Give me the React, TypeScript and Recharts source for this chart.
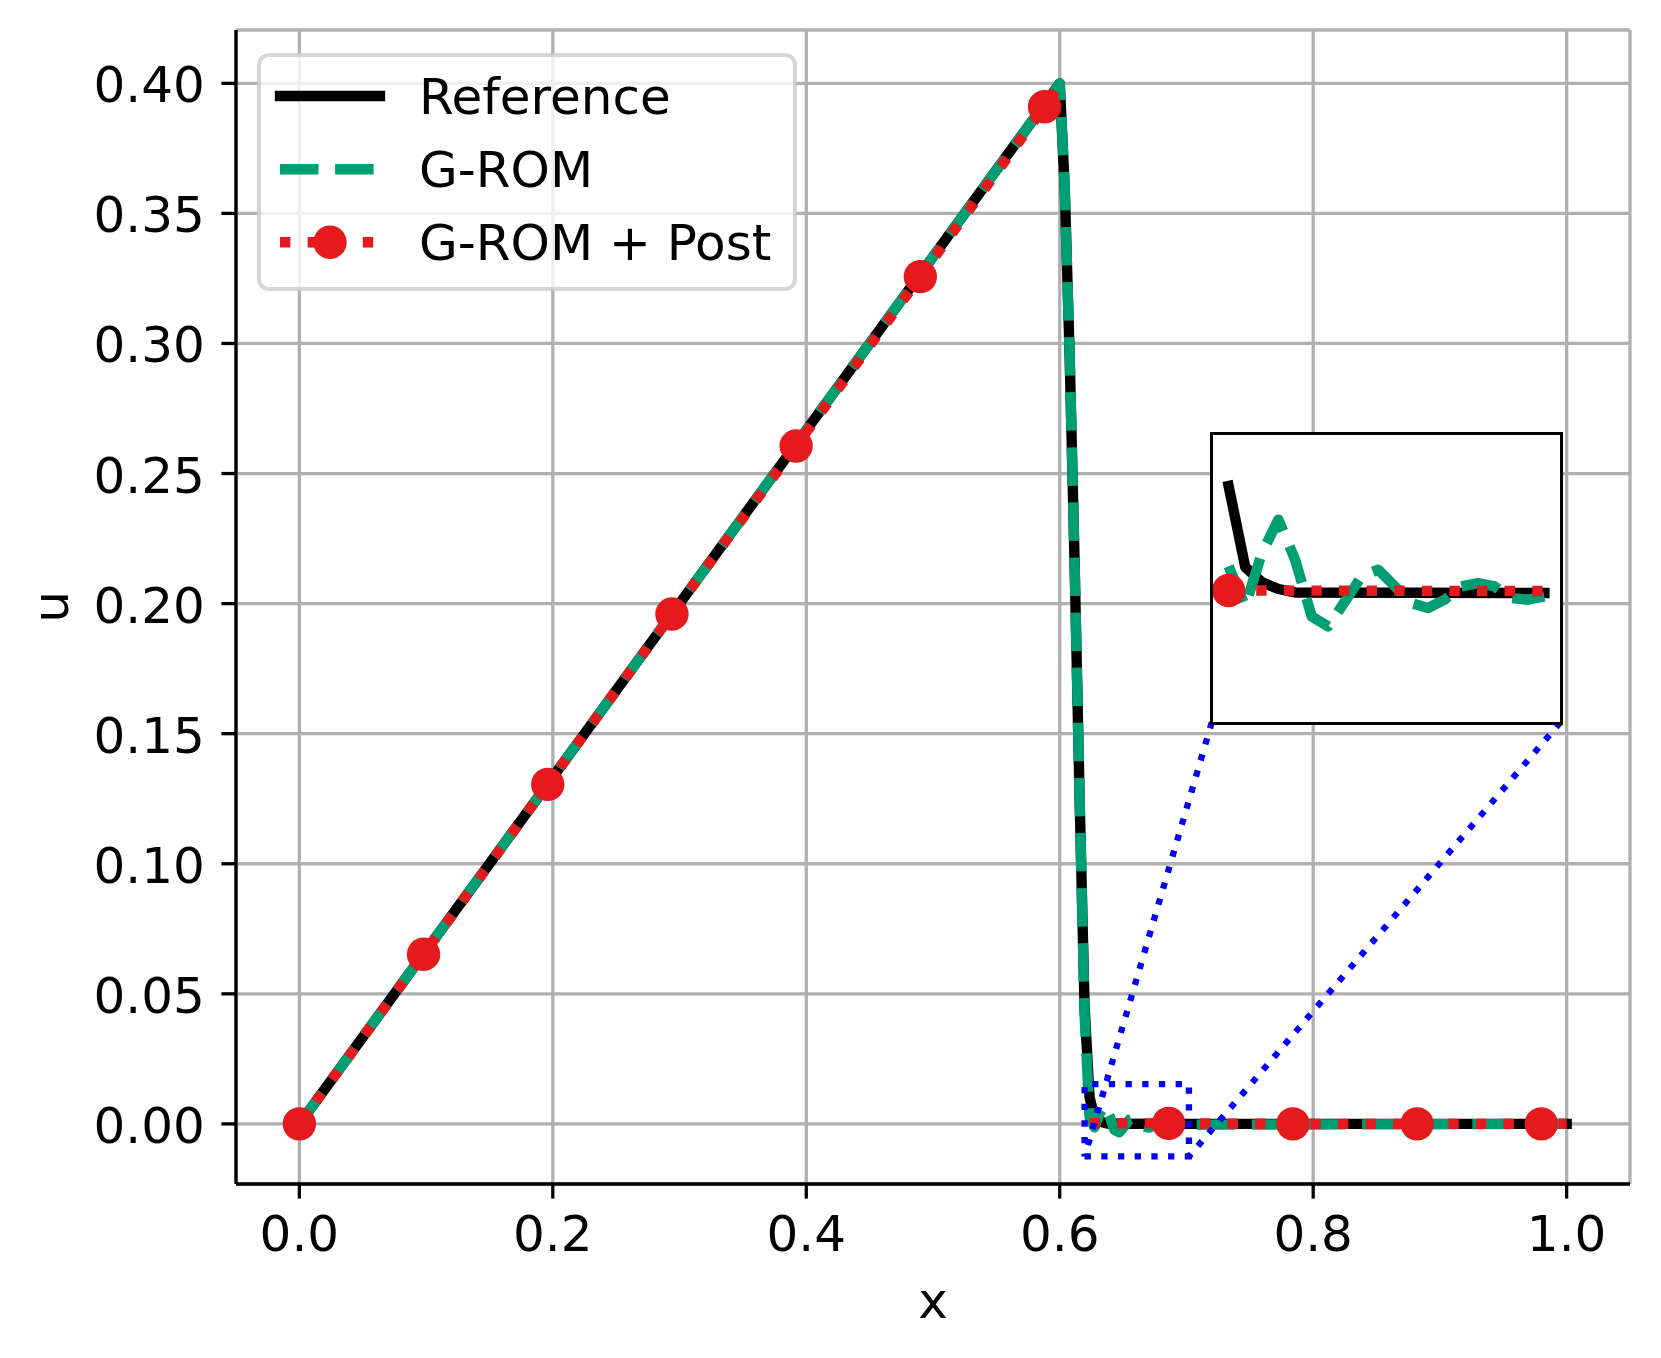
import React from 'react';
import { LineChart, Line, XAxis, YAxis, CartesianGrid } from 'recharts';

// ---------------- data ----------------
const X_TICKS = [0, 0.2, 0.4, 0.6, 0.8, 1.0];
const Y_TICKS = [0, 0.05, 0.1, 0.15, 0.2, 0.25, 0.3, 0.35, 0.4];

const REF_X = [0, 0.6, 0.60392, 0.60784, 0.61176, 0.61569, 0.61961, 0.62353, 0.62745, 0.63137, 0.63529, 0.63922, 0.69804, 1.0];
const REF_U = [0, 0.4, 0.36, 0.295, 0.215, 0.125, 0.045, 0.0103, 0.0025, 0.00105, 0.00039, 0.00006, 0, 0];

const GROM_X = [0, 0.6, 0.60392, 0.60784, 0.61176, 0.61569, 0.61961,
  0.62353, 0.62745, 0.63137, 0.63529, 0.63922, 0.64314, 0.64706, 0.65098, 0.6549, 0.65882,
  0.66275, 0.66667, 0.67059, 0.67451, 0.67843, 0.68235, 0.68627, 0.6902, 0.69412, 0.69804, 1.0];
const GROM_U = [0, 0.4, 0.36, 0.295, 0.215, 0.125, 0.042,
  0.00257, -0.00128, 0.00385, 0.00706, 0.00321, -0.00225, -0.00321, -0.0008, 0.0016, 0.00225,
  0.00064, -0.00096, -0.00144, -0.00064, 0.00064, 0.00096, 0.00064, -0.00048, -0.00064, -0.00032, 0];

// G-ROM + Post: no visible line through the shock cells (gap)
const POST_X = [0, 0.098, 0.196, 0.294, 0.392, 0.49, 0.588, 0.6, 0.61176,
  0.62353, 0.686, 0.69804, 0.784, 0.882, 0.98, 1.0];
const POST_U: (number | null)[] = [0, 0.0652, 0.1305, 0.196, 0.2606, 0.3257, 0.391, 0.4, null,
  0.00025, 0.0002, 0.0002, 0, 0, 0, 0];
const POST_MARKER_X = [0, 0.098, 0.196, 0.294, 0.392, 0.49, 0.588, 0.686, 0.784, 0.882, 0.98];

const X_DOMAIN = [-0.05, 1.05];
const Y_DOMAIN = [-0.0231, 0.4205];
const INSET_X = [0.61961, 0.70196];
const INSET_Y = [-0.0125, 0.0153];
const INSET_SLICE = [0.62353, 0.69804];
const INSET_FRAC = { left: 0.7, bottom: 0.4, width: 0.25, height: 0.25 };

const SERIES = [
  { name: 'Reference', color: '#000000', style: 'solid' },
  { name: 'G-ROM', color: '#009E73', style: 'dashed' },
  { name: 'G-ROM + Post', color: '#E41A1C', style: 'dotted' },
];

// ---------------- layout / style ----------------
const W = 1645;
const H = 1342;
const PLOT = { left: 228, top: 22, width: 1394, height: 1154 };
const Y_AXIS_W = 120;
const X_AXIS_H = 60;
const MARGIN = {
  top: PLOT.top,
  left: PLOT.left - Y_AXIS_W,
  right: W - PLOT.left - PLOT.width,
  bottom: H - PLOT.top - PLOT.height - X_AXIS_H,
};
const FONT = '"DejaVu Sans", "Liberation Sans", sans-serif';
const FS = 50;
const TICK_LEN = 14.6;
const SPINE = 3.3;
const LW = 10.4;
const DASH = '38.5 16.6';
const DOT = '10.4 17.2';
const BLUE = '#0000FF';
const BLUE_LW = 6.3;
const BLUE_DOT = '6.3 10.4';
const MARKER_R = 16.7;

const toPts = (xs: number[], us: (number | null)[]) => xs.map((x, i) => ({ x, u: us[i] }));
const refData = toPts(REF_X, REF_U);
const gromData = toPts(GROM_X, GROM_U);
const postData = toPts(POST_X, POST_U);
const inSlice = (p: { x: number }) => p.x >= INSET_SLICE[0] - 1e-9 && p.x <= INSET_SLICE[1] + 1e-9;
const refInset = refData.filter(inSlice);
const gromInset = gromData.filter(inSlice);
const postInset = postData.filter(inSlice);
const markerSet = new Set(POST_MARKER_X);

// zoom rectangle + connector lines in main-axes data coordinates
const xSpan = X_DOMAIN[1] - X_DOMAIN[0];
const ySpan = Y_DOMAIN[1] - Y_DOMAIN[0];
const cornerY = Y_DOMAIN[0] + INSET_FRAC.bottom * ySpan;
const cornerLX = X_DOMAIN[0] + INSET_FRAC.left * xSpan;
const cornerRX = X_DOMAIN[0] + (INSET_FRAC.left + INSET_FRAC.width) * xSpan;
const rectData = [
  { x: INSET_X[0], u: INSET_Y[0] },
  { x: INSET_X[1], u: INSET_Y[0] },
  { x: INSET_X[1], u: INSET_Y[1] },
  { x: INSET_X[0], u: INSET_Y[1] },
  { x: INSET_X[0], u: INSET_Y[0] },
];
const connL = [{ x: cornerLX, u: cornerY }, { x: INSET_X[0], u: INSET_Y[0] }];
const connR = [{ x: cornerRX, u: cornerY }, { x: INSET_X[1], u: INSET_Y[0] }];

const INSET_BOX = {
  left: Math.round(PLOT.left + INSET_FRAC.left * PLOT.width),
  top: Math.round(PLOT.top + (1 - INSET_FRAC.bottom - INSET_FRAC.height) * PLOT.height),
  w: Math.round(INSET_FRAC.width * PLOT.width),
  h: Math.round(INSET_FRAC.height * PLOT.height),
};

const XTick = (p: any) => (
  <text x={p.x} y={p.y + 38} textAnchor="middle" fontFamily={FONT} fontSize={FS} fill="#000">
    {Number(p.payload.value).toFixed(1)}
  </text>
);
const YTick = (p: any) => (
  <text x={p.x} y={p.y + 19} textAnchor="end" fontFamily={FONT} fontSize={FS} fill="#000">
    {Number(p.payload.value).toFixed(2)}
  </text>
);
const XLabel = () => (
  <text x={PLOT.left + PLOT.width / 2} y={1310} textAnchor="middle" fontFamily={FONT} fontSize={FS} fill="#000">x</text>
);
const YLabel = () => {
  const cx = 60;
  const cy = PLOT.top + PLOT.height / 2;
  return (
    <text x={cx} y={cy} transform={`rotate(-90, ${cx}, ${cy})`} textAnchor="middle" fontFamily={FONT} fontSize={FS} fill="#000">u</text>
  );
};

const mainDot = (p: any) => {
  const { cx, cy, payload, index } = p;
  if (payload.u == null || !markerSet.has(payload.x)) return <g key={`m${index}`} />;
  return <circle key={`m${index}`} cx={cx} cy={cy} r={MARKER_R} fill={SERIES[2].color} />;
};
const insetDot = (p: any) => {
  const { cx, cy, index } = p;
  if (index !== 0) return <g key={`i${index}`} />;
  return <circle key={`i${index}`} cx={cx} cy={cy} r={MARKER_R} fill={SERIES[2].color} />;
};

const seriesLines = (ref: any[], grom: any[], post: any[], dot: any) => [
  <Line key="ref" data={ref} dataKey="u" type="linear" stroke={SERIES[0].color} strokeWidth={LW}
    strokeLinecap="square" strokeLinejoin="round" dot={false} activeDot={false} isAnimationActive={false} />,
  <Line key="grom" data={grom} dataKey="u" type="linear" stroke={SERIES[1].color} strokeWidth={LW}
    strokeDasharray={DASH} strokeLinecap="butt" strokeLinejoin="round" dot={false} activeDot={false} isAnimationActive={false} />,
  <Line key="post" data={post} dataKey="u" type="linear" stroke={SERIES[2].color} strokeWidth={LW}
    strokeDasharray={DOT} strokeLinecap="butt" strokeLinejoin="round" dot={dot} activeDot={false}
    connectNulls={false} isAnimationActive={false} />,
];

const LegendBox = () => {
  const box = { x: 251, y: 47, w: 536, h: 234 };
  const rows = [88, 161.3, 234.3];
  const hx0 = 272;
  const hx1 = 372;
  return (
    <svg width={800} height={300} style={{ position: 'absolute', left: 0, top: 0, pointerEvents: 'none' }}>
      <rect x={box.x} y={box.y} width={box.w} height={box.h} rx={10} ry={10}
        fill="rgba(255,255,255,0.8)" stroke="rgba(204,204,204,0.8)" strokeWidth={4} />
      {SERIES.map((s, i) => {
        const y = rows[i];
        return (
          <g key={s.name}>
            {s.style === 'solid' && (
              <line x1={hx0} y1={y} x2={hx1} y2={y} stroke={s.color} strokeWidth={LW} strokeLinecap="square" />
            )}
            {s.style === 'dashed' && (
              <line x1={hx0} y1={y} x2={hx1} y2={y} stroke={s.color} strokeWidth={LW} strokeDasharray={DASH} />
            )}
            {s.style === 'dotted' && (
              <g>
                <line x1={hx0} y1={y} x2={hx1} y2={y} stroke={s.color} strokeWidth={LW} strokeDasharray={DOT} />
                <circle cx={(hx0 + hx1) / 2} cy={y} r={MARKER_R} fill={s.color} />
              </g>
            )}
            <text x={411} y={y + 18} fontFamily={FONT} fontSize={FS} fill="#000">{s.name}</text>
          </g>
        );
      })}
    </svg>
  );
};

export default function App() {
  const axisStroke = { stroke: '#000', strokeWidth: SPINE };
  return (
    <div style={{ position: 'relative', width: W, height: H, background: '#fff' }}>
      <LineChart width={W} height={H} margin={MARGIN}>
        <CartesianGrid stroke="#b0b0b0" strokeWidth={SPINE} />
        <XAxis dataKey="x" type="number" domain={X_DOMAIN} ticks={X_TICKS} allowDataOverflow interval={0}
          height={X_AXIS_H} tickSize={TICK_LEN} tickMargin={TICK_LEN} tickLine={axisStroke} axisLine={axisStroke}
          tick={XTick} label={XLabel} />
        <YAxis dataKey="u" type="number" domain={Y_DOMAIN} ticks={Y_TICKS} allowDataOverflow interval={0}
          width={Y_AXIS_W} tickSize={TICK_LEN} tickMargin={16.5} tickLine={axisStroke} axisLine={axisStroke}
          tick={YTick} label={YLabel} />
        <XAxis xAxisId="top" orientation="top" type="number" domain={X_DOMAIN} allowDataOverflow height={0}
          tick={false} tickLine={false} axisLine={axisStroke} />
        <YAxis yAxisId="right" orientation="right" type="number" domain={Y_DOMAIN} allowDataOverflow width={0}
          tick={false} tickLine={false} axisLine={axisStroke} />
        {seriesLines(refData, gromData, postData, mainDot)}
        <Line data={rectData} dataKey="u" type="linear" stroke={BLUE} strokeWidth={BLUE_LW} strokeDasharray={BLUE_DOT}
          dot={false} activeDot={false} isAnimationActive={false} />
        <Line data={connL} dataKey="u" type="linear" stroke={BLUE} strokeWidth={BLUE_LW} strokeDasharray={BLUE_DOT}
          dot={false} activeDot={false} isAnimationActive={false} />
        <Line data={connR} dataKey="u" type="linear" stroke={BLUE} strokeWidth={BLUE_LW} strokeDasharray={BLUE_DOT}
          dot={false} activeDot={false} isAnimationActive={false} />
      </LineChart>

      <LegendBox />

      <div style={{ position: 'absolute', left: INSET_BOX.left, top: INSET_BOX.top, width: INSET_BOX.w, height: INSET_BOX.h, background: '#fff' }}>
        <LineChart width={INSET_BOX.w} height={INSET_BOX.h} margin={{ top: 0, right: 0, bottom: 0, left: 0 }}>
          <XAxis dataKey="x" type="number" domain={INSET_X} allowDataOverflow hide />
          <YAxis dataKey="u" type="number" domain={INSET_Y} allowDataOverflow hide />
          {seriesLines(refInset, gromInset, postInset, insetDot)}
        </LineChart>
        <div style={{ position: 'absolute', left: -SPINE / 2, top: -SPINE / 2, width: INSET_BOX.w + SPINE, height: INSET_BOX.h + SPINE,
          border: `${SPINE}px solid #000`, boxSizing: 'border-box', pointerEvents: 'none' }} />
      </div>
    </div>
  );
}
